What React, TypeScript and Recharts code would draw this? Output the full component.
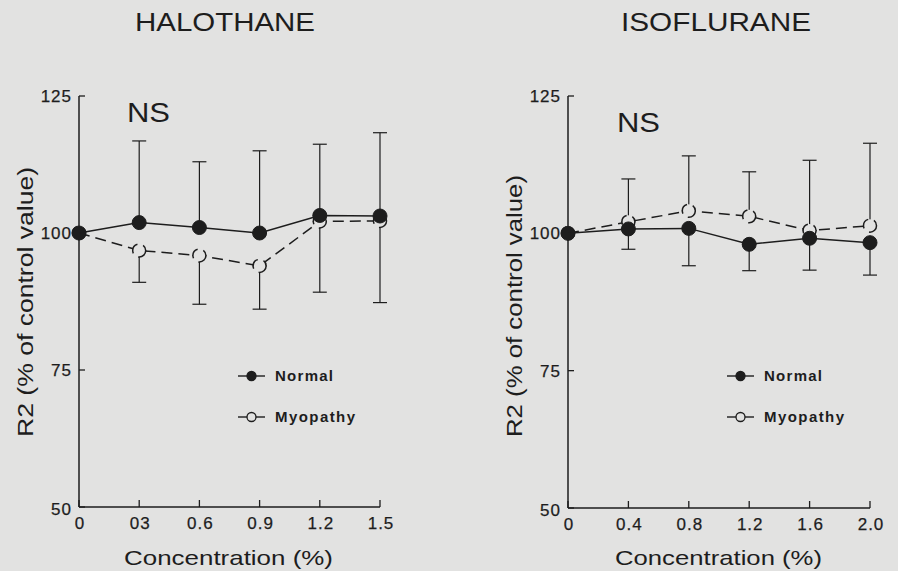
import { LineChart, Line, XAxis, YAxis, ErrorBar, Legend } from 'recharts';

const BG = '#e2e2e1';
const INK = '#1d1d1d';
const FONT = '"Liberation Sans", Arial, Helvetica, sans-serif';

// halothane panel
const haloConc = [0, 0.3, 0.6, 0.9, 1.2, 1.5];
const haloTickLabels = ['0', '03', '0.6', '0.9', '1.2', '1.5'];
const haloNormal = [100, 101.9, 101.0, 100.0, 103.2, 103.1];
const haloNormalTop = [null, 116.8, 113.0, 115.0, 116.2, 118.3];
const haloMyopathy = [100, 96.8, 95.9, 94.0, 102.1, 102.2];
const haloMyopathyLow = [null, 91.0, 87.0, 86.1, 89.2, 87.3];

// isoflurane panel
const isoConc = [0, 0.4, 0.8, 1.2, 1.6, 2.0];
const isoTickLabels = ['0', '0.4', '0.8', '1.2', '1.6', '2.0'];
const isoNormal = [100, 100.8, 100.9, 98.0, 99.1, 98.3];
const isoNormalLow = [null, 97.1, 94.1, 93.2, 93.3, 92.4];
const isoMyopathy = [100, 102.1, 104.1, 103.1, 100.5, 101.4];
const isoMyopathyTop = [null, 109.9, 114.1, 111.2, 113.3, 116.4];

const yTicks = [50, 75, 100, 125];
const seriesNames = ['Normal', 'Myopathy'];

// error bars are one-sided: [below, above]
const buildRows = (conc: number[], normal: number[], myo: number[], nTop: any[], nLow: any[], mTop: any[], mLow: any[]) =>
  conc.map((c, i) => ({
    c,
    normal: normal[i],
    myopathy: myo[i],
    nErr: nTop[i] != null ? [0, nTop[i] - normal[i]] : nLow[i] != null ? [normal[i] - nLow[i], 0] : undefined,
    mErr: mTop[i] != null ? [0, mTop[i] - myo[i]] : mLow[i] != null ? [myo[i] - mLow[i], 0] : undefined,
  }));

const none = [null, null, null, null, null, null];
const haloRows = buildRows(haloConc, haloNormal, haloMyopathy, haloNormalTop, none, none, haloMyopathyLow);
const isoRows = buildRows(isoConc, isoNormal, isoMyopathy, none, isoNormalLow, isoMyopathyTop, none);

const Y_GAP = 7;
const X_GAP = 10;

const tickText = { fontFamily: FONT, fontSize: 17, letterSpacing: 1, fill: INK, stroke: INK, strokeWidth: 0.25 };

const YTick = (props: any) => {
  const { x, y, payload } = props;
  const ax = x + Y_GAP;
  return (
    <g>
      <line x1={ax} x2={ax + 6} y1={y} y2={y} stroke={INK} strokeWidth={1.3} />
      <text x={x} y={y} dy={payload.value === 50 ? 8 : 6} textAnchor="end" {...tickText}>
        {payload.value}
      </text>
    </g>
  );
};

const makeXTick = (ticks: number[], labels: string[]) => (props: any) => {
  const { x, y, payload } = props;
  const ay = y - X_GAP;
  const label = labels[ticks.indexOf(payload.value)];
  return (
    <g>
      <line x1={x} x2={x} y1={ay} y2={ay - 7} stroke={INK} strokeWidth={1.3} />
      <text x={x + 1} y={ay + 22} textAnchor="middle" {...tickText}>
        {label}
      </text>
    </g>
  );
};

const LegendBox = () => (
  <svg width={140} height={70}>
    {seriesNames.map((name, i) => {
      const cy = 20 + i * 41;
      return (
        <g key={name}>
          <line x1={2} x2={29} y1={cy} y2={cy} stroke={INK} strokeWidth={1.4} />
          <circle cx={15.5} cy={cy} r={4.5} fill={i === 0 ? INK : BG} stroke={INK} strokeWidth={1.3} />
          <text x={39} y={cy + 5} fontFamily={FONT} fontSize={15} fontWeight="bold" fill={INK} textLength={i === 0 ? 58 : 80} lengthAdjust="spacing">
            {name}
          </text>
        </g>
      );
    })}
  </svg>
);

function Panel(props: { rows: any[]; ticks: number[]; labels: string[]; margin: any; legendLeft: number }) {
  const { rows, ticks, labels, margin, legendLeft } = props;
  return (
    <LineChart width={449} height={571} data={rows} margin={margin}>
      <XAxis
        type="number"
        dataKey="c"
        domain={[ticks[0], ticks[ticks.length - 1]]}
        ticks={ticks}
        height={30}
        tickSize={0}
        tickMargin={X_GAP}
        tickLine={false}
        axisLine={{ stroke: INK, strokeWidth: 1.5 }}
        tick={makeXTick(ticks, labels)}
      />
      <YAxis
        type="number"
        domain={[50, 125]}
        ticks={yTicks}
        width={60}
        tickSize={0}
        tickMargin={Y_GAP}
        tickLine={false}
        axisLine={{ stroke: INK, strokeWidth: 1.5 }}
        tick={YTick}
      />
      <Legend
        layout="horizontal"
        verticalAlign="middle"
        align="center"
        content={LegendBox}
        wrapperStyle={{ left: legendLeft, top: 356, width: 140, height: 70 }}
      />
      <Line
        dataKey="myopathy"
        name="Myopathy"
        stroke={INK}
        strokeWidth={1.5}
        strokeDasharray="11 6"
        dot={{ r: 6.5, fill: BG, stroke: INK, strokeWidth: 1.5 }}
        isAnimationActive={false}
      >
        <ErrorBar dataKey="mErr" direction="y" width={7} stroke={INK} strokeWidth={1.2} isAnimationActive={false} />
      </Line>
      <Line
        dataKey="normal"
        name="Normal"
        stroke={INK}
        strokeWidth={1.5}
        dot={{ r: 7, fill: INK, stroke: INK, strokeWidth: 1 }}
        isAnimationActive={false}
      >
        <ErrorBar dataKey="nErr" direction="y" width={7} stroke={INK} strokeWidth={1.2} isAnimationActive={false} />
      </Line>
    </LineChart>
  );
}

const txt = { fontFamily: FONT, fill: INK };

export default function App() {
  return (
    <div style={{ position: 'absolute', left: 0, top: 0, width: 898, height: 571, background: BG, overflow: 'hidden' }}>
      <div style={{ position: 'absolute', left: 0, top: 0 }}>
        <Panel rows={haloRows} ticks={haloConc} labels={haloTickLabels} margin={{ top: 96, right: 69, bottom: 34, left: 19 }} legendLeft={236} />
      </div>
      <div style={{ position: 'absolute', left: 449, top: 0 }}>
        <Panel rows={isoRows} ticks={isoConc} labels={isoTickLabels} margin={{ top: 96, right: 28, bottom: 33, left: 59 }} legendLeft={276} />
      </div>
      <svg width={898} height={571} style={{ position: 'absolute', left: 0, top: 0, pointerEvents: 'none' }}>
        <text x={135} y={31} fontSize={26} textLength={180} lengthAdjust="spacingAndGlyphs" {...txt}>HALOTHANE</text>
        <text x={621} y={31} fontSize={26} textLength={190} lengthAdjust="spacingAndGlyphs" {...txt}>ISOFLURANE</text>
        <text x={127} y={122} fontSize={27} textLength={43} lengthAdjust="spacingAndGlyphs" {...txt}>NS</text>
        <text x={617} y={132} fontSize={27} textLength={43} lengthAdjust="spacingAndGlyphs" {...txt}>NS</text>
        <text transform="translate(33,437) rotate(-90)" fontSize={22} textLength={270} lengthAdjust="spacingAndGlyphs" {...txt}>R2 (% of control value)</text>
        <text transform="translate(522,437) rotate(-90)" fontSize={22} textLength={262} lengthAdjust="spacingAndGlyphs" {...txt}>R2 (% of control value)</text>
        <text x={124} y={565} fontSize={21} textLength={209} lengthAdjust="spacingAndGlyphs" {...txt}>Concentration (%)</text>
        <text x={615} y={565} fontSize={21} textLength={207} lengthAdjust="spacingAndGlyphs" {...txt}>Concentration (%)</text>
      </svg>
    </div>
  );
}
